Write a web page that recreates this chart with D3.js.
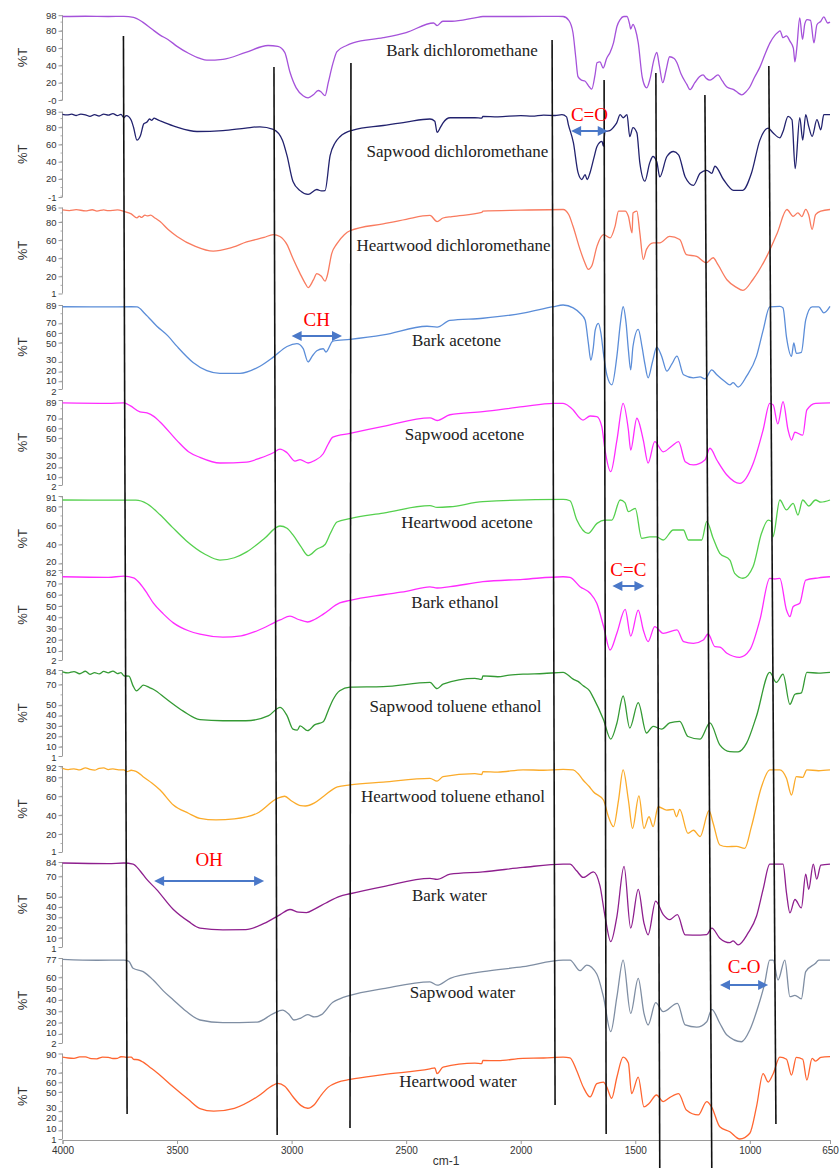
<!DOCTYPE html>
<html><head><meta charset="utf-8">
<script src="https://cdn.jsdelivr.net/npm/d3@7"></script>
<style>body{margin:0;background:#fff}</style>
</head><body><svg id="c" width="840" height="1168"></svg>
<script>
// ---------------- DATA ----------------
const wavenumberTicks = [4000,3500,3000,2500,2000,1500,1000,650];
const seriesNames = ["Bark dichloromethane","Sapwood dichloromethane","Heartwood dichloromethane",
  "Bark acetone","Sapwood acetone","Heartwood acetone","Bark ethanol","Sapwood toluene ethanol",
  "Heartwood toluene ethanol","Bark water","Sapwood water","Heartwood water"];
const yDomains = [[0,98],[-1,98],[1,96],[2,89],[2,89],[1,91],[2,82],[1,84],[1,92],[1,84],[2,77],[1,90]];
const yTickValues = [[98,80,60,40,20,0],[98,80,60,40,20,-1],[96,80,60,40,20,1],[89,70,60,50,30,20,10,2],
  [89,70,60,50,30,20,10,2],[91,80,60,40,20],[82,70,60,50,40,30,20,10,2],[84,70,50,40,30,20,10,1],
  [92,80,60,40,20,1],[84,70,50,40,30,20,10,1],[77,60,50,40,30,20,10,2],[90,70,60,50,30,20,10,1]];
const yTickLabels = yTickValues.map((v,i)=>v.map(d=> (i===0 && d===0) ? "-0" : String(d)));

const barkDCM = [[4000,96.5],[3900,96.8],[3800,96.5],[3732,96.6],[3690,95.5],[3650,90],[3610,82],[3574,75],[3540,70],[3500,62],[3450,54],[3400,48],[3370,46],[3300,47],[3200,55],[3103,63],[3060,62],[3030,55],[3007,32],[2980,14],[2950,5],[2928,2.5],[2905,6],[2884,11],[2870,9],[2854,5],[2840,20],[2820,42],[2802,56],[2760,63],[2732,66],[2600,72],[2500,78],[2380,89],[2365,86],[2340,91],[2300,91],[2200,95],[2165,96.5],[2000,96.5],[1900,96.6],[1815,96.5],[1790,92],[1772,78],[1760,50],[1750,27],[1735,23],[1720,22],[1700,15],[1690,12.5],[1675,30],[1667,43],[1654,44],[1640,37],[1625,48],[1610,55],[1595,66],[1580,85],[1566,93],[1550,96.5],[1536,96.5],[1525,88],[1520,82],[1510,87.5],[1500,82],[1487,66],[1470,27],[1458,16],[1450,14],[1435,25],[1420,45],[1406,55],[1395,40],[1380,20],[1365,35],[1350,50],[1330,48],[1318,43],[1300,30],[1275,18],[1261,12],[1240,20],[1220,27],[1204,29],[1190,25],[1174,23],[1160,25],[1139,29],[1120,22],[1100,15],[1070,12],[1050,8],[1035,6],[1015,10],[1000,15],[980,26],[956,38],[935,52],[912,66],[890,75],[878,78],[868,80],[855,72],[840,74],[825,68],[810,60],[803,44],[795,60],[782,95],[770,70],[760,88],[750,93],[735,92],[720,66],[707,87],[690,91],[677,96],[660,89],[650,90]];
const sapwoodDCM = [[4000,95],[3980,94.2],[3960,95.2],[3940,93.6],[3920,95.3],[3900,94.4],[3880,92.6],[3860,94.6],[3840,93],[3820,95.2],[3800,94],[3780,95.8],[3760,93.4],[3745,95],[3732,91],[3722,93.5],[3710,92],[3700,88],[3690,80],[3675,65],[3660,70],[3645,84],[3631,86],[3620,89.5],[3610,88],[3600,90.5],[3588,89],[3575,87.5],[3560,86],[3500,80],[3413,75],[3300,76],[3200,79],[3138,80.5],[3080,77.6],[3040,65],[3020,47],[2994,17],[2963,6.4],[2928,2.1],[2890,7.7],[2870,6],[2854,6.4],[2832,47],[2810,62],[2789,69],[2732,76.7],[2600,82],[2500,86],[2396,89.5],[2375,87],[2365,74],[2350,80],[2339,85],[2308,91],[2200,91],[2170,90.5],[2165,92.5],[2100,92],[2000,93.5],[1950,92.8],[1900,94],[1850,93.6],[1820,94.5],[1800,92],[1792,83],[1770,62],[1750,27.5],[1733,19.3],[1719,25],[1710,19.3],[1697,27.5],[1680,45],[1667,57.7],[1645,63.5],[1639,57.7],[1632,75],[1611,76],[1595,80],[1581,85],[1566,94.5],[1553,91],[1536,94.5],[1524,69],[1510,79.5],[1493,73.5],[1480,38.6],[1458,17.4],[1437,38.6],[1423,46],[1406,40],[1393,22.3],[1362,46],[1333,51.8],[1311,48],[1282,22.3],[1246,12.6],[1217,26.5],[1188,30],[1166,26.5],[1152,34.7],[1115,19.3],[1071,6.8],[1031,6.8],[993,26.5],[956,65],[920,79],[899,73.5],[869,67.7],[855,75],[833,92.5],[816,88.7],[802,32],[782,91],[769,65],[756,94.5],[743,81],[728,69.4],[707,88.7],[690,77],[677,94.5],[650,94.5]];
const heartwoodDCM = [[4000,93.4],[3970,92.6],[3940,93.6],[3900,92.3],[3870,93.5],[3850,92],[3820,93.4],[3800,92.5],[3760,93.3],[3732,91.7],[3700,89],[3675,84.5],[3665,86.5],[3655,85],[3640,87.6],[3631,86.8],[3615,87.5],[3600,85],[3574,80.5],[3540,72],[3500,64],[3420,53],[3342,47.7],[3270,51],[3196,57.9],[3120,63],[3080,66],[3051,64],[3020,55],[2994,39.6],[2963,23],[2940,12],[2928,7.5],[2905,16],[2890,23],[2870,20],[2854,14.6],[2845,20],[2825,45],[2802,56],[2770,66],[2745,70.3],[2600,78],[2500,83],[2396,87.2],[2365,80.5],[2339,84.4],[2300,86],[2170,90.5],[2165,91.9],[2000,93],[1815,93.8],[1790,88],[1772,75.5],[1741,49.6],[1720,35],[1705,27.6],[1690,31.3],[1667,53.3],[1638,66],[1610,62.4],[1588,75.5],[1573,92],[1544,92],[1530,86.3],[1514,67.9],[1510,90],[1493,92],[1480,68],[1465,38.7],[1451,49.7],[1422,57],[1393,57],[1350,64],[1306,60.6],[1277,44],[1232,42],[1190,35],[1160,40.5],[1139,32.8],[1100,16.2],[1060,8],[1030,4.5],[987,16.2],[926,42],[880,67.9],[838,93.8],[811,86.3],[790,90],[773,86],[756,94],[743,88],[728,71.8],[713,88],[690,92],[650,93.8]];
const barkAcetone = [[4000,87.2],[3800,87],[3700,87.2],[3675,87],[3640,80],[3588,67],[3540,57],[3500,46.1],[3430,29.5],[3370,21],[3313,18.2],[3226,18.2],[3138,25.6],[3080,35],[3020,46],[2977,48.9],[2950,44],[2928,30],[2910,36],[2890,41.6],[2862,43.7],[2850,40.3],[2820,51.6],[2745,53.4],[2600,58],[2409,67],[2365,66],[2309,73],[2165,75.3],[1990,80.5],[1858,87.3],[1815,89],[1771,86],[1741,80.5],[1719,73.5],[1705,50],[1694,31.8],[1683,45],[1675,62.8],[1661,70],[1650,60],[1639,39],[1624,16.7],[1602,6.3],[1580,36.3],[1565,70],[1553,87.2],[1540,70],[1530,42.5],[1520,21.8],[1510,46],[1487,63.8],[1470,45],[1458,28],[1444,13.6],[1425,30],[1406,45.3],[1385,36],[1362,20.5],[1340,28],[1318,36],[1289,16.7],[1246,13.6],[1217,14.5],[1196,12.5],[1166,21.8],[1144,16.7],[1109,9.7],[1087,6.3],[1073,8.5],[1051,4],[1014,15.3],[971,35.8],[942,62.8],[913,87],[869,87.5],[855,86],[840,56],[818,35.8],[808,49.7],[797,39],[775,40],[756,73.5],[728,87],[699,87],[677,80.8],[650,87.5]];
const sapwoodAcetone = [[4000,86],[3800,85.5],[3732,86],[3705,83.3],[3662,76.8],[3631,75.7],[3600,72],[3574,66.5],[3500,47.4],[3450,36],[3400,30.3],[3313,24.5],[3196,25.5],[3138,29.5],[3080,35],[3051,38.8],[3020,35.1],[2985,26.5],[2963,28],[2928,24.5],[2900,27],[2862,34],[2840,44],[2820,51],[2745,54.9],[2600,62],[2396,70.8],[2365,68],[2309,73.9],[2165,77],[1990,82.2],[1858,85.6],[1815,85.6],[1771,78.8],[1741,70.3],[1728,68.5],[1697,72.6],[1668,72],[1646,61.7],[1632,37.8],[1607,15.7],[1580,48],[1553,85.6],[1530,58.3],[1520,37.8],[1493,70.3],[1465,48],[1444,24.4],[1415,46.3],[1378,36],[1340,42],[1311,46.3],[1282,25.9],[1246,22.5],[1196,27.6],[1174,39.6],[1144,27.6],[1100,12.2],[1044,3.6],[985,24.3],[942,58.3],[913,85.6],[898,84],[878,64.5],[855,87.3],[833,58.3],[818,48],[803,56],[769,53],[751,78.8],[713,85.6],[650,86]];
const heartwoodAcetone = [[4000,86.8],[3800,86.6],[3680,86.6],[3631,82.9],[3574,71.2],[3520,58],[3460,44],[3380,30],[3313,23.6],[3250,26],[3196,32.2],[3120,46],[3051,59.4],[3020,57],[2994,50],[2960,38],[2928,28.3],[2890,35],[2854,40],[2830,52],[2802,63.6],[2745,67.3],[2600,73],[2396,80.9],[2365,79],[2309,79.7],[2165,85],[1815,87.5],[1785,86],[1755,65.7],[1706,51.7],[1667,62.2],[1632,65.7],[1602,65.7],[1566,86.8],[1545,84],[1530,74.5],[1500,78],[1472,46.5],[1436,48],[1407,48],[1378,44.7],[1334,55.2],[1290,55.2],[1268,44.7],[1210,44.7],[1188,64],[1160,46.5],[1131,30.7],[1087,23.6],[1066,9.6],[1030,4.4],[986,16.6],[949,51.7],[920,65.7],[905,64],[899,48],[869,86.8],[840,76.3],[811,83.3],[790,71],[769,86.8],[743,80.5],[713,86.8],[690,84.5],[650,86.8]];
const barkEthanol = [[4000,76],[3800,75.5],[3732,76.5],[3690,75],[3662,70],[3630,61],[3604,52.7],[3560,43],[3516,35],[3450,28],[3400,25],[3300,22.4],[3220,23.5],[3150,28],[3050,37.6],[3007,41],[2970,38],[2930,35.8],[2900,38],[2860,43],[2790,52.7],[2745,55],[2600,60],[2500,63],[2396,67],[2365,66],[2308,67.2],[2165,71.6],[1990,73.7],[1815,76],[1785,75.5],[1741,67.2],[1697,61.3],[1668,52.4],[1638,31.6],[1610,10.9],[1580,26],[1544,47],[1520,23.3],[1487,46.4],[1465,28.7],[1444,18.3],[1415,31.6],[1378,25.7],[1318,28.7],[1289,18.3],[1246,16.8],[1203,19.8],[1182,25.1],[1152,13.8],[1131,13.5],[1100,8],[1044,4.4],[1000,10.9],[956,37.6],[913,74.6],[891,74],[869,74.6],[840,46.4],[825,40.5],[811,49.4],[782,52.4],[756,73.1],[700,75],[650,76]];
const sapwoodTolueneEthanol = [[4000,82.3],[3975,81.2],[3950,82.5],[3925,80.4],[3900,82.8],[3880,79.8],[3860,81.5],[3840,80.2],[3820,82.6],[3800,81.3],[3780,83],[3760,80.5],[3745,81.5],[3732,78.4],[3710,78],[3692,68.7],[3677,63.8],[3660,67],[3648,69.4],[3620,67],[3604,65.4],[3545,55.7],[3473,44.3],[3400,36.1],[3300,35],[3200,35],[3100,40],[3050,48],[3020,40],[2994,27],[2975,26],[2963,30],[2930,25.4],[2900,31],[2862,34],[2840,45],[2820,55],[2790,64],[2745,67.5],[2600,68],[2396,72],[2365,66],[2339,70.3],[2200,76],[2170,75],[2165,78.4],[2100,77.5],[2050,79],[1990,80],[1900,80.6],[1815,81.7],[1771,75.2],[1750,73],[1727,68.7],[1700,64],[1683,57.3],[1639,36.2],[1607,17.3],[1580,32.9],[1553,58.9],[1524,28],[1487,52.5],[1451,23.2],[1422,29.6],[1385,27],[1350,32.9],[1306,34.5],[1270,19.8],[1217,17.3],[1174,32.9],[1131,11.7],[1087,5.2],[1051,5],[1014,13.4],[971,39.4],[913,81.7],[884,72],[855,80],[825,50.8],[803,60.6],[775,62],[751,81.7],[700,81],[650,81.7]];
const heartwoodTolueneEthanol = [[4000,89.5],[3975,88.2],[3950,89],[3925,87.8],[3900,90],[3880,88.4],[3860,87.6],[3840,89.5],[3820,90],[3800,88.2],[3780,89],[3755,88],[3732,88],[3719,86],[3700,87.5],[3690,87],[3670,85],[3648,80.7],[3610,74],[3574,66.6],[3516,50.7],[3450,42],[3400,36.6],[3330,35],[3250,36],[3150,42],[3060,58],[3030,60],[3000,55],[2960,50],[2940,49.7],[2900,53],[2860,60],[2800,70],[2745,72],[2600,75],[2396,79],[2365,76],[2339,80.7],[2200,84],[2170,83],[2165,86],[2100,85.5],[1990,88],[1900,87.5],[1815,88.5],[1771,87.8],[1750,84],[1728,77.2],[1700,70],[1683,64.8],[1639,56],[1617,38.3],[1595,27.8],[1573,56],[1553,87.8],[1530,56],[1512,26],[1484,60.3],[1462,26],[1440,38.3],[1422,27.8],[1400,48.9],[1363,45.4],[1334,46],[1320,38.3],[1306,46],[1270,20.8],[1246,24],[1217,17.2],[1178,44.7],[1160,31.4],[1131,8.4],[1100,6.6],[1058,7],[1022,4.9],[993,27.8],[949,70.1],[913,87.8],[869,88],[840,79],[818,61.3],[797,80.7],[769,80],[751,88],[700,87],[650,87.8]];
const barkWater = [[4000,83],[3800,82.5],[3732,83],[3692,82],[3660,75],[3633,67.2],[3590,57.3],[3516,37.6],[3450,26],[3400,19.5],[3300,17.8],[3200,18],[3120,24],[3050,32.6],[3007,37.6],[2970,35],[2935,34.6],[2900,38],[2850,44],[2790,50.4],[2745,53],[2600,60],[2396,68],[2365,67],[2308,72.1],[2165,74.4],[1990,78.7],[1815,82],[1785,82],[1756,75.4],[1727,68.9],[1683,74.4],[1654,60.6],[1632,31],[1607,6.2],[1580,31],[1549,79.7],[1520,19.5],[1487,57.3],[1462,24.4],[1444,12.9],[1411,45.8],[1378,32.6],[1350,27.7],[1316,32.6],[1282,12.9],[1217,12.6],[1188,13],[1166,19.5],[1131,9.6],[1087,5.2],[1073,7],[1051,3],[1008,14.5],[971,31],[942,57.3],[913,82],[855,82],[840,54],[825,34.3],[803,47.4],[775,39.2],[756,72.1],[743,57.3],[723,82],[708,67.2],[690,81],[650,82]];
const sapwoodWater = [[4000,75.8],[3850,75],[3732,75.2],[3710,74],[3692,67.9],[3648,65],[3604,57.6],[3560,48],[3516,40],[3460,30],[3400,22.3],[3300,20],[3150,20.5],[3080,28],[3040,31],[3010,27],[2990,22.3],[2960,24],[2930,27],[2900,25],[2870,27],[2820,38],[2790,41],[2745,44],[2600,50],[2396,56],[2365,53],[2308,59.1],[2165,65],[1990,69.3],[1815,75.2],[1785,75.2],[1741,65.8],[1712,70.8],[1668,62.9],[1639,42.9],[1607,12],[1580,42.9],[1553,75.2],[1520,28.2],[1487,59.1],[1462,28.2],[1444,17.9],[1411,37.6],[1378,29.6],[1316,37],[1282,17.9],[1232,16],[1188,20.8],[1166,31.7],[1131,19.4],[1100,9],[1036,3.1],[1000,13.5],[964,34],[935,54.7],[913,75.2],[898,75.2],[877,57.6],[847,75.2],[825,42.9],[803,44],[775,41],[756,65],[713,72.3],[699,75.2],[650,75.2]];
const heartwoodWater = [[4000,86.2],[3975,85.3],[3950,85],[3925,86.4],[3900,86.5],[3875,84.6],[3850,84.5],[3825,86.3],[3800,86],[3780,84.8],[3760,85],[3745,86.6],[3732,86.5],[3719,86],[3700,86.3],[3690,84],[3670,83.5],[3648,81],[3620,76],[3590,70.6],[3516,55.1],[3450,42],[3400,32.7],[3340,30],[3250,33],[3150,45],[3080,57],[3060,59],[3030,56],[2994,45],[2960,36],[2930,33],[2900,37],[2870,47],[2840,55],[2800,60],[2745,63],[2600,68],[2396,74],[2375,75],[2365,69],[2339,75.8],[2200,80],[2170,79.5],[2165,82.8],[2100,82.5],[1990,85],[1900,85.3],[1815,86.2],[1785,85.5],[1756,72.4],[1727,55.1],[1697,44.8],[1668,58.6],[1639,60.3],[1624,55],[1603,43.4],[1580,65.5],[1553,86.2],[1530,80],[1516,48.3],[1487,65.5],[1462,34.4],[1440,38],[1407,46.8],[1378,40],[1350,44],[1311,48.3],[1277,31.3],[1225,26.1],[1188,40],[1166,34],[1131,13.7],[1087,8.5],[1044,1],[1000,7],[971,34.4],[942,69],[920,60.3],[898,69],[869,86.2],[840,84],[818,67.5],[797,86],[769,84],[751,62.4],[728,85],[713,82],[690,86],[650,86.8]];

const allSeries = [barkDCM,sapwoodDCM,heartwoodDCM,barkAcetone,sapwoodAcetone,heartwoodAcetone,
  barkEthanol,sapwoodTolueneEthanol,heartwoodTolueneEthanol,barkWater,sapwoodWater,heartwoodWater];

// band annotations (wavenumbers) and labels
const bandLabels = ["C=O","CH","C=C","OH","C-O"];
const bandRanges = [[1780,1620],[3000,2780],[1600,1460],[3600,3120],[1130,920]];
const markerWavenumbers = [[3734,3718],[3077,3063],[2741,2745],[1863,1850],[1636,1627],[1410,1393],[1196,1166],[917,886]];

// ---------------- LAYOUT / STYLE ----------------
const colors = ["#a552da","#22226e","#f97b5f","#5b8dd8","#ff2cff","#55d04e","#ff2cff","#349a34","#fbab2a","#8e1f8e","#7f8ea3","#ff6530"];
const panelTop =    [15.2,111.7,207.5,305,400,496,570,670,766,862,958,1053.5];
const panelBottom = [100,197,293.5,389,485,581.5,660,756,852,947,1043,1139];
const labelCenter = [462,457.5,453.5,456.5,464.5,467,455,455.5,453,449.5,462.5,458];
const labelBase =   [55.5,157,250.5,345.5,439.5,527.5,608,712,802,901,997.5,1086.5];
const markerY = [[36,1114],[67,1135],[63,1128],[40,1105],[80,1134],[73,1168],[95,1168],[66,1124]];
const bandTextY = [121,326,576,866,973];
const bandArrowY = [131,336,586,881,985];

const svg = d3.select("#c");
const x = d3.scaleLinear().domain([4000,650]).range([62.5,830]);

const sans = "'Liberation Sans', Arial, sans-serif";
const serif = "'Liberation Serif', 'Times New Roman', serif";
const tickLabels = [];

allSeries.forEach((data,i)=>{
  const y = d3.scaleLinear().domain(yDomains[i]).range([panelBottom[i], panelTop[i]]);
  const g = svg.append("g");
  const [lo,hi] = yDomains[i];
  const minor = d3.range(Math.ceil(lo/10)*10, hi, 10);
  g.selectAll("line.minor").data(minor).join("line")
    .attr("x1",60.5).attr("x2",62.5).attr("y1",d=>y(d)).attr("y2",d=>y(d))
    .attr("stroke","#9a9a9a").attr("stroke-width",0.8);
  const ax = d3.axisLeft(y).tickValues(yTickValues[i]).tickFormat((d,j)=>yTickLabels[i][j]).tickSize(4).tickPadding(2);
  const axg = g.append("g").attr("transform","translate(62.5,0)").call(ax);
  axg.select(".domain").attr("stroke","#9a9a9a").attr("d",`M0,${panelTop[i]}V${panelBottom[i]}`);
  axg.selectAll(".tick line").attr("stroke","#9a9a9a");
  axg.selectAll(".tick text").attr("fill","#333").style("font-family",sans).style("font-size","9.5px");
  axg.selectAll(".tick").each(function(d){
    tickLabels.push({sel:d3.select(this).select("text"), y0:y(d), y:y(d)});
  });
  g.append("text").attr("transform",`translate(27,${(panelTop[i]+panelBottom[i])/2}) rotate(-90)`)
    .attr("text-anchor","middle").style("font-family",sans).style("font-size","13px").attr("fill","#333").text("%T");
  const line = d3.line().x(d=>x(d[0])).y(d=>y(d[1])).curve(d3.curveMonotoneX);
  g.append("path").attr("d",line(data)).attr("fill","none").attr("stroke",colors[i]).attr("stroke-width",1.3);
  g.append("text").attr("x",labelCenter[i]).attr("y",labelBase[i]).attr("text-anchor","middle")
    .style("font-family",serif).style("font-size","17px").attr("fill","#222").text(seriesNames[i]);
});

// spread crowded y tick labels apart a little (the reference does the same);
// the very last label (just above the x axis) stays where it is.
tickLabels.sort((a,b)=>a.y-b.y);
const minGap = 10.6, lastK = tickLabels.length-1;
for (let it=0; it<300; it++){
  let moved=false;
  for (let k=0;k<lastK;k++){
    const a=tickLabels[k], b=tickLabels[k+1], gap=b.y-a.y;
    if (gap<minGap){
      const need=minGap-gap+0.01;
      if (k+1===lastK){ a.y-=need; } else { a.y-=need/2; b.y+=need/2; }
      moved=true;
    }
  }
  if(!moved) break;
}
tickLabels.forEach(t=>t.sel.attr("y",t.y-t.y0));

// x axis
const xg = svg.append("g").attr("transform","translate(0,1140)")
  .call(d3.axisBottom(x).tickValues(wavenumberTicks).tickFormat(d3.format("d")).tickSize(4).tickPadding(3));
xg.select(".domain").attr("stroke","#9a9a9a");
xg.selectAll(".tick line").attr("stroke","#9a9a9a");
xg.selectAll(".tick text").attr("fill","#333").style("font-family",sans).style("font-size","10px");
svg.append("text").attr("x",446).attr("y",1165).attr("text-anchor","middle")
  .style("font-family",sans).style("font-size","12px").attr("fill","#333").text("cm-1");

// vertical marker lines
svg.selectAll("line.marker").data(markerWavenumbers).join("line")
  .attr("x1",d=>x(d[0])).attr("x2",d=>x(d[1]))
  .attr("y1",(d,i)=>markerY[i][0]).attr("y2",(d,i)=>markerY[i][1])
  .attr("stroke","#111").attr("stroke-width",1.6);

// band arrows
bandRanges.forEach((r,i)=>{
  const x1 = x(r[0]), x2 = x(r[1]), yy = bandArrowY[i], h = 10, w = 5;
  svg.append("line").attr("x1",x1+h-1).attr("x2",x2-h+1).attr("y1",yy).attr("y2",yy)
    .attr("stroke","#4a78c8").attr("stroke-width",2);
  svg.append("path").attr("d",`M${x1},${yy}L${x1+h},${yy-w}L${x1+h},${yy+w}Z`).attr("fill","#4a78c8");
  svg.append("path").attr("d",`M${x2},${yy}L${x2-h},${yy-w}L${x2-h},${yy+w}Z`).attr("fill","#4a78c8");
  svg.append("text").attr("x",(x1+x2)/2).attr("y",bandTextY[i]).attr("text-anchor","middle")
    .style("font-family",serif).style("font-size","19px").attr("fill","#ff0000").text(bandLabels[i]);
});
</script></body></html>
